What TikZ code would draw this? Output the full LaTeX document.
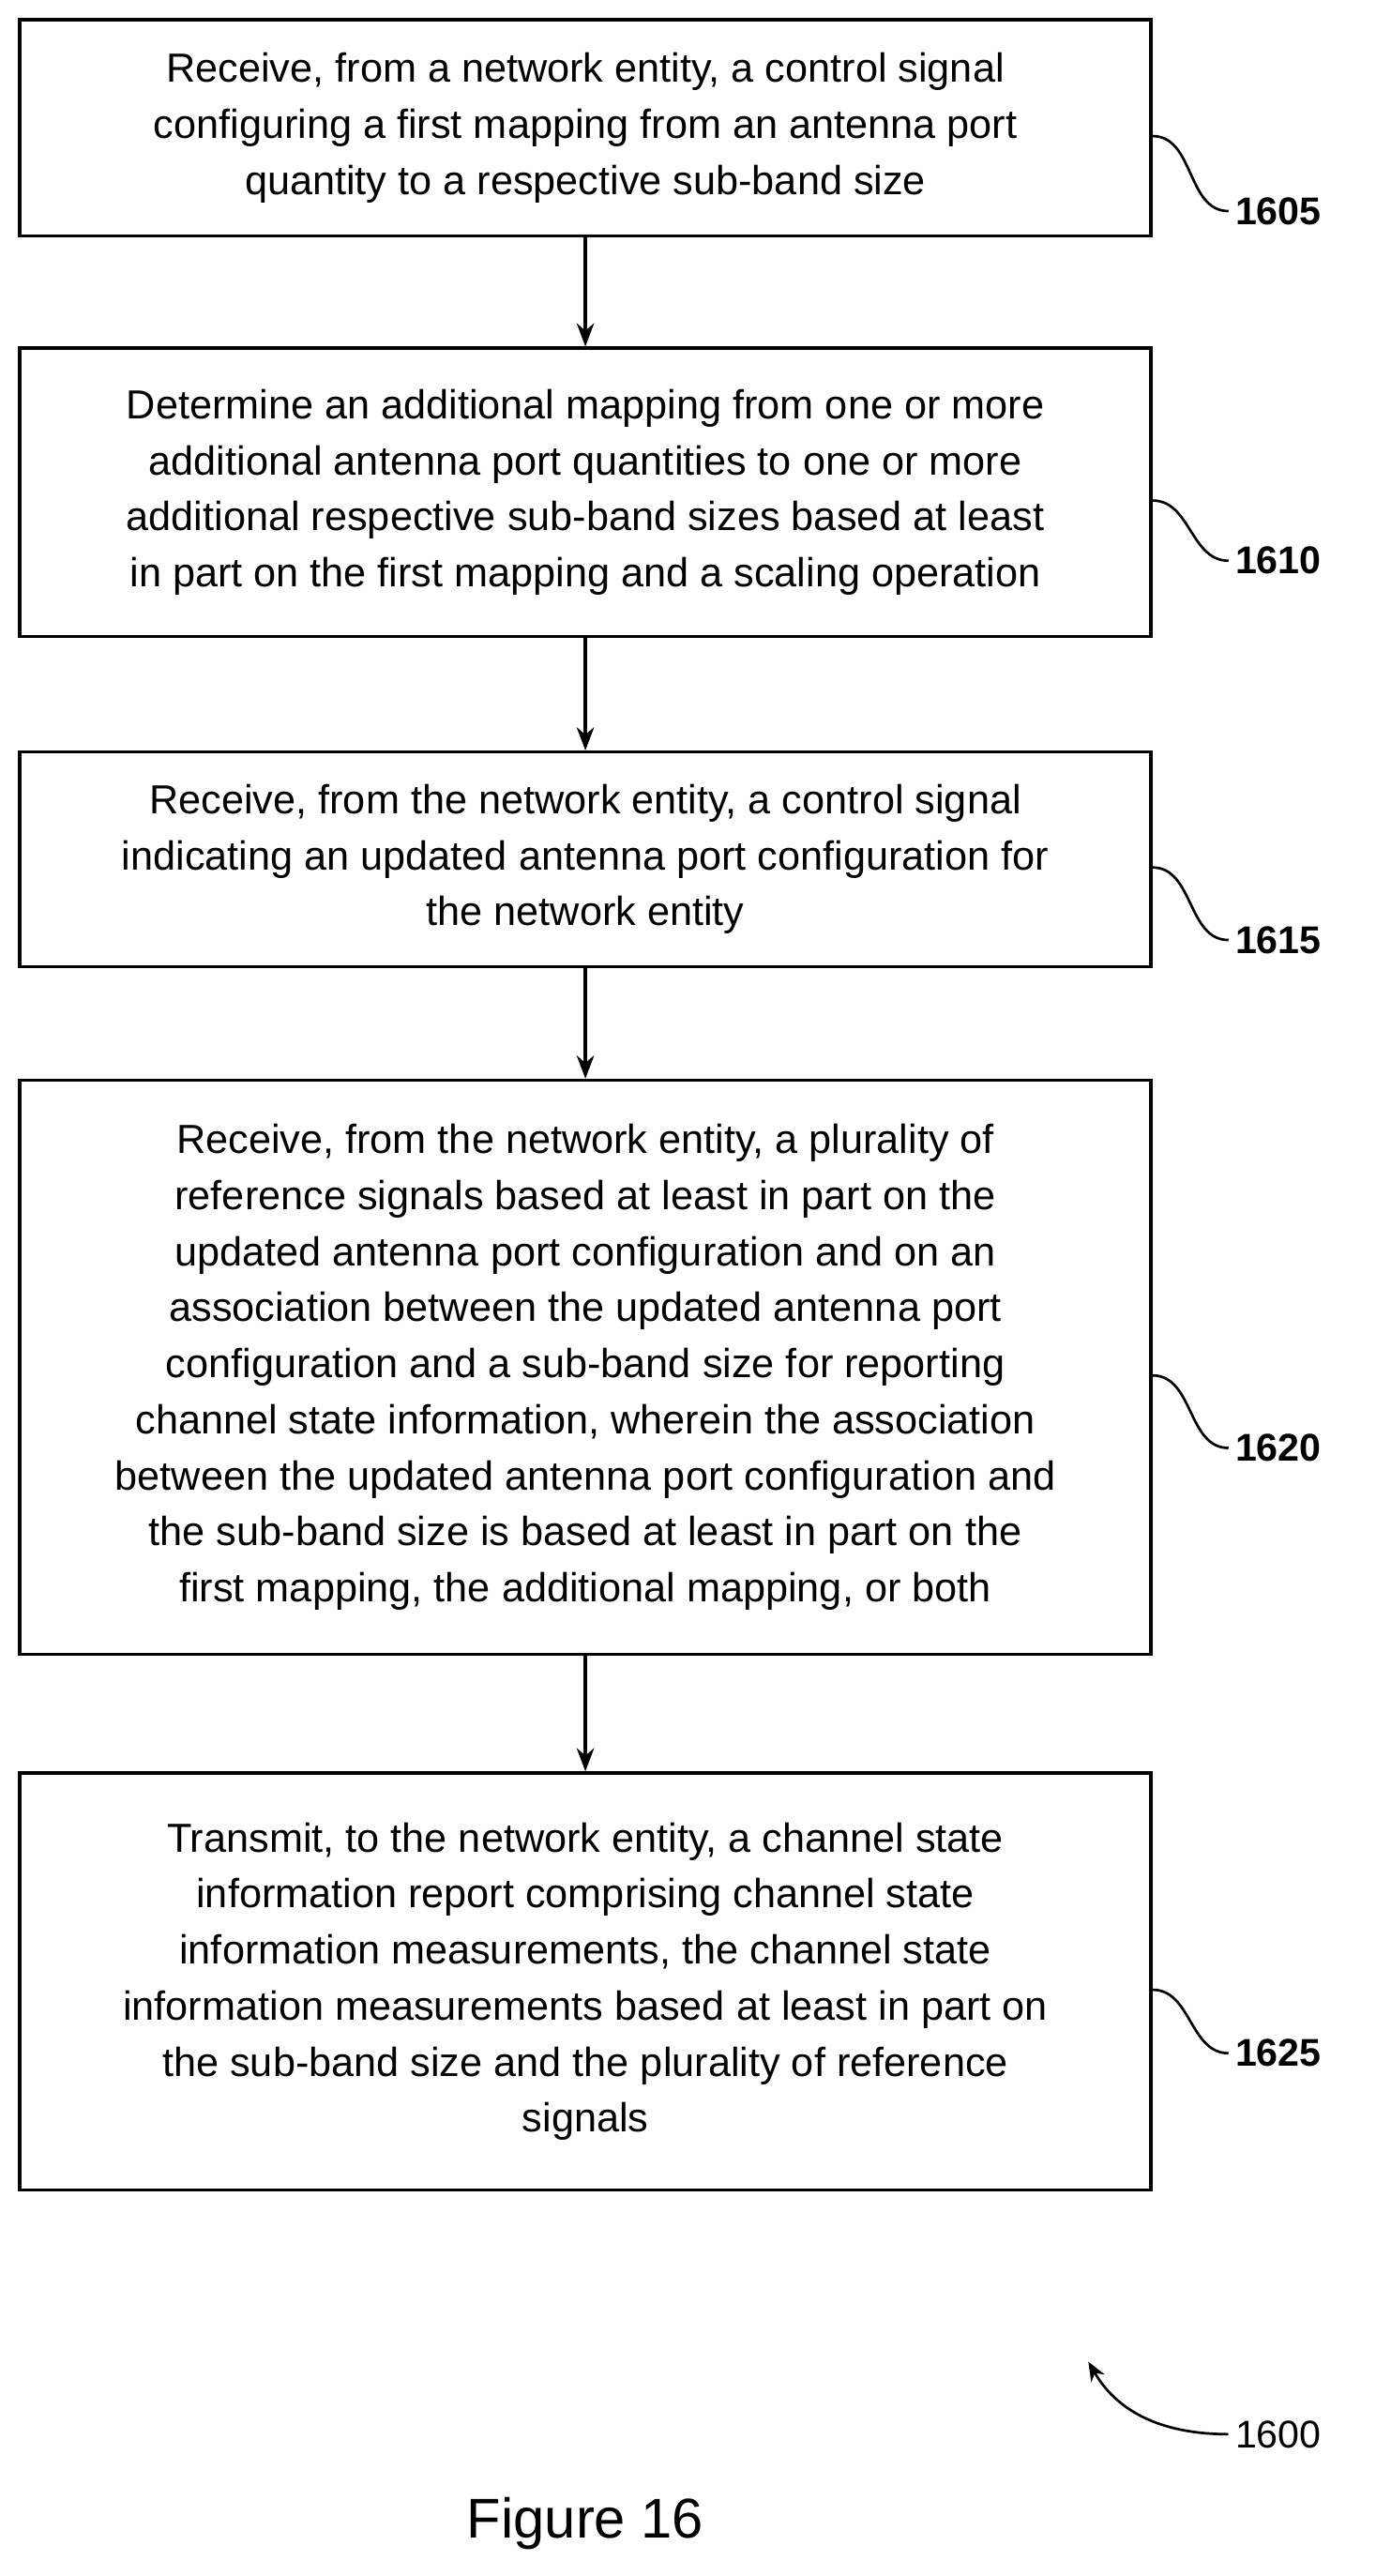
\documentclass[tikz,border=0pt]{standalone}
\usepackage{fontspec}
\setmainfont{Liberation Sans}
\usetikzlibrary{arrows.meta}
\tikzset{
  stepbox/.style={shape=rectangle,draw,line width=1.6pt,minimum width=20.58cm,align=center,
    font=\fontsize{21}{29}\selectfont},
  steplabel/.style={font=\bfseries\fontsize{20}{24}\selectfont,anchor=west},
  flow/.style={-{Stealth[length=12pt,width=9pt]},line width=1.6pt},
  tag/.style={line width=1.3pt}
}
\begin{document}
\begin{tikzpicture}[x=0.03cm,y=-0.03cm]
    \useasboundingbox (0,0) rectangle (834,1562);
    \node[stepbox,minimum height=3.93cm] (b1) at (355,77.5)
      {Receive, from a network entity, a control signal\\configuring a first mapping from an antenna port\\quantity to a respective sub-band size};
    \node[stepbox,minimum height=5.25cm] (b2) at (355,298.5)
      {Determine an additional mapping from one or more\\additional antenna port quantities to one or more\\additional respective sub-band sizes based at least\\in part on the first mapping and a scaling operation};
    \node[stepbox,minimum height=3.9cm] (b3) at (355,521)
      {Receive, from the network entity, a control signal\\indicating an updated antenna port configuration for\\the network entity};
    \node[stepbox,minimum height=10.44cm] (b4) at (355,829)
      {Receive, from the network entity, a plurality of\\reference signals based at least in part on the\\updated antenna port configuration and on an\\association between the updated antenna port\\configuration and a sub-band size for reporting\\channel state information, wherein the association\\between the updated antenna port configuration and\\the sub-band size is based at least in part on the\\first mapping, the additional mapping, or both};
    \node[stepbox,minimum height=7.59cm] (b5) at (355,1201.5)
      {Transmit, to the network entity, a channel state\\information report comprising channel state\\information measurements, the channel state\\information measurements based at least in part on\\the sub-band size and the plurality of reference\\signals};
    % arrows
    \draw[flow] (b1) -- (b2);
    \draw[flow] (b2) -- (b3);
    \draw[flow] (b3) -- (b4);
    \draw[flow] (b4) -- (b5);
    % labels
    \node[steplabel] (l1) at (745,128) {1605};
    \node[steplabel] (l2) at (745,340) {1610};
    \node[steplabel] (l3) at (745,570) {1615};
    \node[steplabel] (l4) at (745,878) {1620};
    \node[steplabel] (l5) at (745,1245) {1625};
    \foreach \i in {1,...,5}
      \draw[tag] (b\i.east) ++(0,5) to[out=0,in=180] (l\i.west);
    \node[font=\fontsize{20}{24}\selectfont,anchor=west] (l0) at (745,1476) {1600};
    \coordinate (t0) at (660,1432);
    \draw[tag,-{Stealth[length=10pt,width=8pt]}] (l0.west) to[out=180,in=-60] (t0);
    \node[font=\fontsize{29}{34}\selectfont] (fig) at (355,1530) {Figure 16};
\end{tikzpicture}
\end{document}
